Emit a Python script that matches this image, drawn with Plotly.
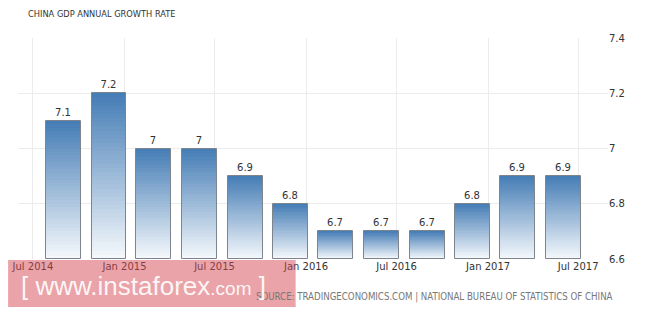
import plotly.graph_objects as go

# ---- data ----
quarters = ["2014-09-01", "2014-12-01", "2015-03-01", "2015-06-01", "2015-09-01", "2015-12-01",
            "2016-03-01", "2016-06-01", "2016-09-01", "2016-12-01", "2017-03-01", "2017-06-01"]
gdp_growth = [7.1, 7.2, 7.0, 7.0, 6.9, 6.8, 6.7, 6.7, 6.7, 6.8, 6.9, 6.9]
y_ticks = [6.6, 6.8, 7.0, 7.2, 7.4]
y_tick_labels = ["6.6", "6.8", "7", "7.2", "7.4"]
x_tick_dates = ["2014-07-01", "2015-01-01", "2015-07-01", "2016-01-01", "2016-07-01", "2017-01-01", "2017-07-01"]
x_tick_labels = ["Jul 2014", "Jan 2015", "Jul 2015", "Jan 2016", "Jul 2016", "Jan 2017", "Jul 2017"]
title_text = "CHINA GDP ANNUAL GROWTH RATE"
source_text = "SOURCE: TRADINGECONOMICS.COM | NATIONAL BUREAU OF STATISTICS OF CHINA"

BASE = 6.6
BAR_W = 70 * 86400000  # ms
N = 40
top_rgb = (68, 124, 181)
bot_rgb = (246, 249, 252)

fig = go.Figure()

# nested bars to build a vertical gradient per bar (tallest/darkest first)
for k in range(N):
    frac = (N - k) / N
    t = (frac - 0.5 / N)
    col = tuple(round(bot_rgb[i] + (top_rgb[i] - bot_rgb[i]) * t) for i in range(3))
    fig.add_trace(go.Bar(
        x=quarters,
        y=[(v - BASE) * frac for v in gdp_growth],
        base=[BASE] * len(gdp_growth),
        width=[BAR_W] * len(gdp_growth),
        marker=dict(color="rgb(%d,%d,%d)" % col, line=dict(width=0)),
        hoverinfo="skip", showlegend=False,
    ))

# outline + labels
fig.add_trace(go.Bar(
    x=quarters,
    y=[v - BASE for v in gdp_growth],
    base=[BASE] * len(gdp_growth),
    width=[BAR_W] * len(gdp_growth),
    marker=dict(color="rgba(0,0,0,0)", line=dict(color="#7d848c", width=1)),
    text=[f"{v:g}" for v in gdp_growth],
    textposition="outside",
    textfont=dict(family="DejaVu Sans", size=10, color="#333333"),
    cliponaxis=False,
    showlegend=False,
))

L, R, T, B = 13, 57, 38, 52
W, H = 665, 311
pw, ph = W - L - R, H - T - B

def px_x(x):
    return (x - L) / pw

def px_y(y):
    return (H - B - y) / ph

fig.update_layout(
    width=W, height=H,
    margin=dict(l=L, r=R, t=T, b=B),
    paper_bgcolor="white", plot_bgcolor="white",
    barmode="overlay",
    bargap=0,
    font=dict(family="DejaVu Sans", size=10, color="#333333"),
    xaxis=dict(
        type="date",
        range=["2014-06-01", "2017-08-30"],
        tickvals=x_tick_dates, ticktext=x_tick_labels,
        showgrid=True, gridcolor="#ececec", gridwidth=1,
        zeroline=False, showline=False, ticks="",
        tickfont=dict(family="DejaVu Sans", size=10, color="#333333"),
    ),
    yaxis=dict(
        side="right",
        range=[6.6, 7.4],
        tickvals=y_ticks, ticktext=y_tick_labels,
        showgrid=True, gridcolor="#ececec", gridwidth=1,
        zeroline=False, showline=False, ticks="",
        tickfont=dict(family="DejaVu Sans", size=10, color="#333333"),
    ),
    shapes=[dict(
        type="rect", xref="paper", yref="paper",
        x0=px_x(3), x1=px_x(293), y0=px_y(307), y1=px_y(260),
        fillcolor="rgba(214,72,82,0.5)", line=dict(width=0), layer="above",
    )],
    annotations=[
        dict(text=title_text, xref="paper", yref="paper", x=px_x(21), y=px_y(14),
             xanchor="left", yanchor="middle", showarrow=False,
             font=dict(family="DejaVu Sans Condensed", size=9.2, color="#333333")),
        dict(text=source_text, xref="paper", yref="paper", x=px_x(251), y=px_y(297),
             xanchor="left", yanchor="middle", showarrow=False,
             font=dict(family="DejaVu Sans Condensed", size=9.6, color="#777777")),
        dict(text="[ www.instaforex<span style='font-size:19px'>.com</span> ]",
             xref="paper", yref="paper", x=px_x(14), y=px_y(286),
             xanchor="left", yanchor="middle", showarrow=False,
             font=dict(family="Liberation Sans", size=26, color="rgba(255,255,255,0.92)")),
    ],
)

fig.write_html("out.html")
